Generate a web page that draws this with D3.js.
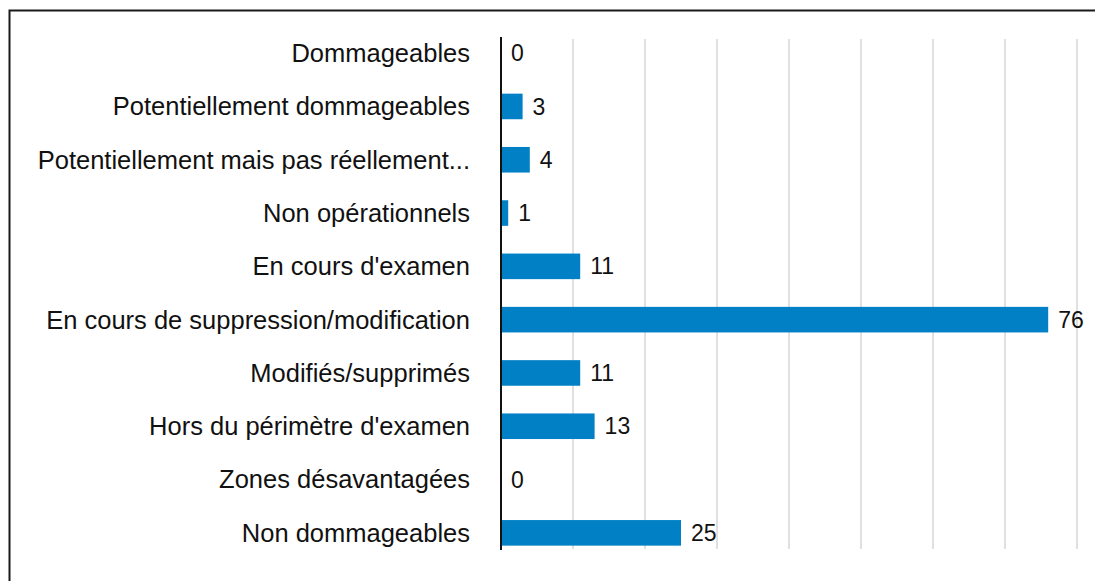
<!DOCTYPE html>
<html>
<head>
<meta charset="utf-8">
<script src="https://cdn.jsdelivr.net/npm/d3@7"></script>
<style>
  body { margin: 0; background: #fff; }
  text { font-family: "Liberation Sans", Arial, Helvetica, sans-serif; fill: #111; }
</style>
</head>
<body>
<svg id="chart"></svg>
<script>
// chart data
const categories = [
    'Dommageables',
    'Potentiellement dommageables',
    'Potentiellement mais pas réellement...',
    'Non opérationnels',
    "En cours d'examen",
    'En cours de suppression/modification',
    'Modifiés/supprimés',
    "Hors du périmètre d'examen",
    'Zones désavantagées',
    'Non dommageables'
];
const values = [0, 3, 4, 1, 11, 76, 11, 13, 0, 25];
const gridTicks = [10, 20, 30, 40, 50, 60, 70, 80];

const width = 1095;
const height = 581;

const data = categories.map((c, i) => ({ name: c, value: values[i] }));

// scales
const xScale = d3.scaleLinear().domain([0, 80]).range([501, 1077]);
const yScale = d3.scaleBand().domain(categories).range([26.5, 559.5]).paddingInner(0.52).paddingOuter(0.26);

const svg = d3.select('#chart')
    .attr('width', width)
    .attr('height', height);

// outer frame (runs off the right and bottom edges)
svg.append('rect')
    .attr('x', 9.5)
    .attr('y', 10.5)
    .attr('width', 1200)
    .attr('height', 1000)
    .attr('fill', 'none')
    .attr('stroke', '#1a1a1a')
    .attr('stroke-width', 2);

// vertical grid lines
svg.selectAll('.grid')
    .data(gridTicks)
    .enter().append('line')
    .attr('class', 'grid')
    .attr('x1', d => xScale(d))
    .attr('x2', d => xScale(d))
    .attr('y1', 39)
    .attr('y2', 549)
    .attr('stroke', '#cfcfcf')
    .attr('stroke-width', 1.3);

// bars
svg.selectAll('.bar')
    .data(data)
    .enter().append('rect')
    .attr('class', 'bar')
    .attr('x', xScale(0))
    .attr('y', d => yScale(d.name))
    .attr('width', d => xScale(d.value) - xScale(0))
    .attr('height', yScale.bandwidth())
    .attr('fill', '#0180c6');

// y axis line
svg.append('line')
    .attr('x1', xScale(0))
    .attr('x2', xScale(0))
    .attr('y1', 37)
    .attr('y2', 550)
    .attr('stroke', '#111')
    .attr('stroke-width', 2);

// category labels
svg.selectAll('.cat')
    .data(data)
    .enter().append('text')
    .attr('class', 'cat')
    .attr('x', 470)
    .attr('y', d => yScale(d.name) + yScale.bandwidth() / 2)
    .attr('dy', '0.35em')
    .attr('text-anchor', 'end')
    .style('font-size', '25.5px')
    .text(d => d.name);

// value labels
svg.selectAll('.val')
    .data(data)
    .enter().append('text')
    .attr('class', 'val')
    .attr('x', d => xScale(d.value) + 10)
    .attr('y', d => yScale(d.name) + yScale.bandwidth() / 2)
    .attr('dy', '0.35em')
    .style('font-size', '23px')
    .text(d => d.value);
</script>
</body>
</html>
